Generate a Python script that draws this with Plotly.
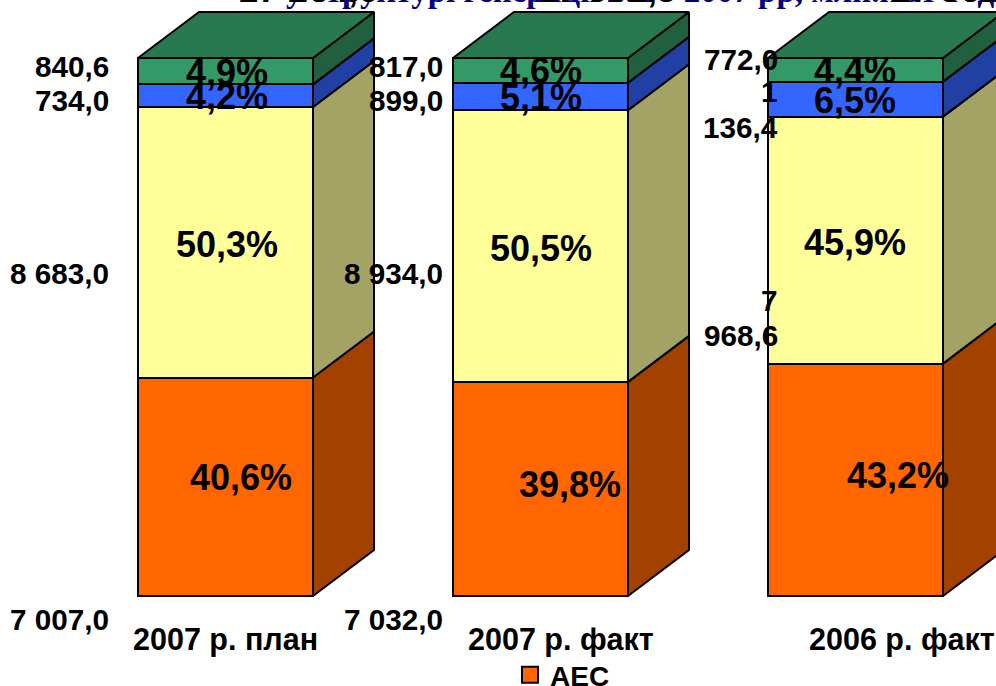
import plotly.graph_objects as go
import numpy as np

categories = ["2007 р. план", "2007 р. факт", "2006 р. факт"]
series_names = ["АЕС", "ТЕС", "ГЕС", "Інші"]
pct_aes = [40.6, 39.8, 43.2]
pct_tes = [50.3, 50.5, 45.9]
pct_ges = [4.2, 5.1, 6.5]
pct_other = [4.9, 4.6, 4.4]
front_colors = ["#FF6600", "#FFFF99", "#3366FF", "#339966"]
side_colors = ["#A34100", "#A3A366", "#2040A3", "#206040"]
top_color = "#287850"

# value labels as they appear in the picture (some wrap onto two lines in the third column)
labels_aes = ["7 007,0", "7 032,0"]
labels_tes = ["8 683,0", "8 934,0", "7", "968,6"]
labels_ges = ["734,0", "899,0", "1", "136,4"]
labels_other = ["840,6", "817,0", "772,0"]
totals = ["17 264,6", "17 682,0", "17 361,0"]
title_text = "у структурі генерації 2006-2007 рр, млн.кВт·год"

W, H = 996, 686
PITCH = 315.0          # px between bars
BAR_PX = 175.0
X0_PX = 225.5
Y0_PX = 596.0
PX_PER_PCT = 5.38
DEPTH_X = 61 / PITCH
DEPTH_Y = 46 / PX_PER_PCT

x = np.arange(3, dtype=float)
half = BAR_PX / PITCH / 2
stack = [pct_aes, pct_tes, pct_ges, pct_other]
cum = np.cumsum(np.array(stack), axis=0)
bases = np.vstack([np.zeros(3), cum[:-1]])

fig = go.Figure()


def sep(seq):
    out = []
    for part in seq:
        out += list(part) + [None]
    return out


LINE = dict(color="#000000", width=2)

# side faces
for s in range(4):
    xs, ys = [], []
    for i in range(3):
        r = x[i] + half
        xs.append([r, r + DEPTH_X, r + DEPTH_X, r, r])
        ys.append([bases[s, i], bases[s, i] + DEPTH_Y, cum[s, i] + DEPTH_Y, cum[s, i], bases[s, i]])
    fig.add_trace(go.Scatter(x=sep(xs), y=sep(ys), mode="lines", fill="toself",
                             fillcolor=side_colors[s], line=LINE, showlegend=False,
                             hoverinfo="skip"))

# top faces
xs, ys = [], []
for i in range(3):
    l, r = x[i] - half, x[i] + half
    t = cum[-1, i]
    xs.append([l, l + DEPTH_X, r + DEPTH_X, r, l])
    ys.append([t, t + DEPTH_Y, t + DEPTH_Y, t, t])
fig.add_trace(go.Scatter(x=sep(xs), y=sep(ys), mode="lines", fill="toself",
                         fillcolor=top_color, line=LINE, showlegend=False, hoverinfo="skip"))

# front faces
for s in range(4):
    fig.add_trace(go.Bar(x=x, y=stack[s], name=series_names[s], width=BAR_PX / PITCH,
                         marker=dict(color=front_colors[s], line=LINE), showlegend=False))

# legend key (only АЕС is shown in the reference)
fig.add_trace(go.Scatter(x=[None], y=[None], mode="markers", name="<b>%s</b>" % series_names[0],
                         marker=dict(symbol="square", size=16, color=front_colors[0],
                                     line=dict(color="#000000", width=2))))


def note(px_x, px_y, text, size, anchor="center", color="#000000", family="Liberation Sans"):
    fig.add_annotation(xref="paper", yref="paper", x=px_x / W, y=1 - px_y / H, text=text,
                       showarrow=False, xanchor=anchor, yanchor="middle", align="center" if anchor == "center" else "right",
                       font=dict(family=family, size=size, color=color), borderpad=0, borderwidth=0)


# title and totals, clipped by the top edge of the picture
note(640, -9, "<b>%s</b>" % title_text, 33, color="#000080", family="Liberation Serif")
for px_x, t in zip([308, 607, 960], totals):
    note(px_x, -10, "<b>%s</b>" % t, 36)

# value labels
LBL = 29.7
for px_y, t in zip([619, 273, 100, 67],
                   [labels_aes[0], labels_tes[0], labels_ges[0], labels_other[0]]):
    note(109, px_y, "<b>%s</b>" % t, LBL, anchor="right")
for px_y, t in zip([619, 273, 100, 67],
                   [labels_aes[1], labels_tes[1], labels_ges[1], labels_other[1]]):
    note(443, px_y, "<b>%s</b>" % t, LBL, anchor="right")
for px_y, t in zip([301, 335, 91, 128, 59],
                   [labels_tes[2], labels_tes[3], labels_ges[2], labels_ges[3], labels_other[2]]):
    note(778, px_y, "<b>%s</b>" % t, LBL, anchor="right")

# percent labels
PCT = 36
pct_x = [[241, 227, 227, 227], [570, 541, 541, 541], [898, 855, 855, 855]]
pct_y = [[477, 244, 96, 72], [484, 248, 97, 71], [475, 242, 101, 70]]
for i in range(3):
    for s in range(4):
        note(pct_x[i][s], pct_y[i][s], "<b>%s%%</b>" % str(stack[s][i]).replace(".", ","), PCT)

# category labels
for px_x, t in zip([225, 561, 902], categories):
    note(px_x, 639, "<b>%s</b>" % t, 30.5)

fig.update_layout(
    width=W, height=H, margin=dict(l=0, r=0, t=0, b=0, autoexpand=False), autosize=False,
    barmode="stack", plot_bgcolor="#FFFFFF", paper_bgcolor="#FFFFFF",
    showlegend=True,
    legend=dict(x=510 / W, y=1 - 675 / H, xanchor="left", yanchor="middle",
                font=dict(family="Liberation Sans", size=28, color="#000000"),
                bgcolor="rgba(0,0,0,0)", borderwidth=0, tracegroupgap=0),
    xaxis=dict(range=[(0 - X0_PX) / PITCH, (W - X0_PX) / PITCH], visible=False, fixedrange=True),
    yaxis=dict(range=[(Y0_PX - H) / PX_PER_PCT, Y0_PX / PX_PER_PCT], visible=False, fixedrange=True),
)
fig.write_html("out.html", config={"displayModeBar": False},
               post_script="document.body.style.margin='0';document.documentElement.style.overflow='hidden';")
